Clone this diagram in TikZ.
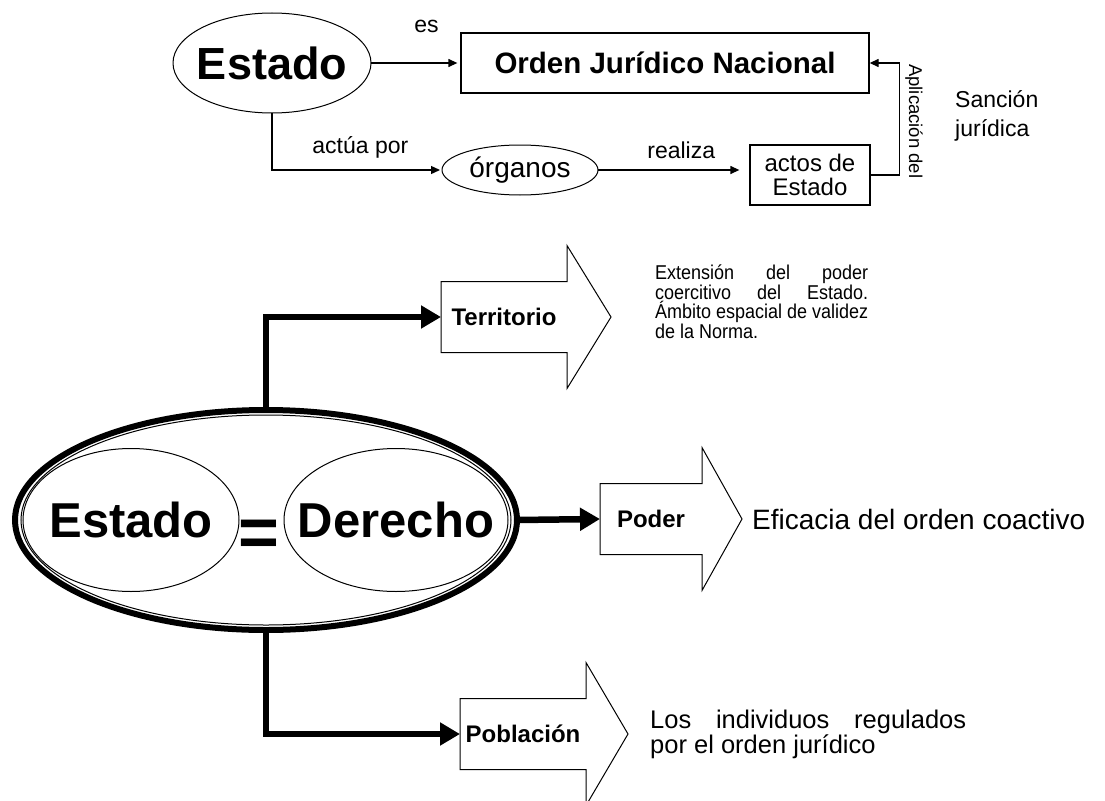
\documentclass[tikz,border=0pt]{standalone}
\usepackage{fontspec}
\setmainfont{Liberation Sans}
\newfontfamily\narrowfont{Liberation Sans}[FakeStretch=0.9]
\usetikzlibrary{arrows.meta,shapes.geometric,calc}
\newcommand{\fsz}[2]{\fontsize{#1}{#2}\selectfont}
\begin{document}
\begin{tikzpicture}[x=1pt,y=-1pt,
  thinline/.style={line width=1.3pt},
  thinarrow/.style={thinline,-{Triangle[length=9pt,width=8pt]}},
  thickarrow/.style={line width=6.5pt,line join=miter,-{Triangle[length=20pt,width=22pt]}},
  lbl/.style={font=\fsz{23}{25}, inner sep=0pt},
  oval/.style={ellipse, draw, line width=1pt, inner sep=0pt, outer sep=0pt},
  bodybox/.style={inner sep=0pt, outer sep=0pt, minimum width=126pt, minimum height=71pt, font=\bfseries\fsz{24}{25}},
  bigarrow/.style={line width=1pt, line join=miter},
  txtblock/.style={inner sep=0pt, anchor=north west, align=left}
]
\useasboundingbox (0,0) rectangle (1105,800);
% ---------- top diagram
\node[oval, minimum width=198pt, minimum height=100pt, font=\bfseries\fsz{45}{46}] (e1) at (272,63) {\makebox[0pt]{Estado}};
\node[draw, thinline, minimum width=408pt, minimum height=60pt, inner sep=0pt, font=\bfseries\fsz{29.5}{30}] (onj) at (665,63) {Orden Jurídico Nacional};
\node[oval, minimum width=156pt, minimum height=50pt, font=\fsz{28}{29}] (org) at (520,170) {\makebox[0pt]{órganos}};
\node[draw, thinline, minimum width=120pt, minimum height=60pt, inner sep=0pt, align=center, font=\fsz{24}{24}] (actos) at (810,175) {actos de\\Estado};
\draw[thinarrow, shorten >=3pt] (e1.east) -- node[lbl, pos=0.62, above=30pt]{es} (onj.west);
\draw[thinarrow, shorten >=2pt] (e1.south) |- node[lbl, pos=0.76, above=11pt]{actúa por} (org.west);
\draw[thinarrow, shorten >=10pt] (org.east) -- node[lbl, pos=0.55, above=11pt]{realiza} (org.east -| actos.west);
\draw[thinarrow] (actos.east) -- ++(29,0) coordinate (bend) -- node[pos=0.48, rotate=-90, anchor=south, inner sep=5pt, font=\fsz{18.5}{19}]{Aplicación del} (bend |- onj.east) -- (onj.east);
\node[inner sep=0pt, anchor=west, align=left, font=\fsz{23}{29}] (sanc) at (955,116) {Sanción\\jurídica};
% ---------- bottom diagram
\node[ellipse, draw, line width=6pt, minimum width=502pt, minimum height=220pt, inner sep=0pt, outer sep=0pt] (outer) at (266,520) {};
\draw[line width=1pt] (outer.center) ellipse [x radius=245pt, y radius=105pt];
\node[oval, minimum width=216pt, minimum height=143pt, font=\bfseries\fsz{49}{50}] (est2) at (131,520) {\makebox[0pt]{Estado}};
\node[oval, minimum width=224pt, minimum height=143pt, font=\bfseries\fsz{49}{50}] (der) at (396,520) {\makebox[0pt]{Derecho}};
\node[inner sep=0pt, font=\bfseries\fsz{70}{70}] (eq) at (259,538) {=};
% big arrows (body boxes)
\node[bodybox] (terr) at (504,317) {Territorio};
\node[bodybox, minimum width=102pt] (poder) at (651,519) {Poder};
\node[bodybox] (pobl) at (523,734) {Población};
\foreach \n/\h in {terr/44,poder/40,pobl/42}{
  \draw[bigarrow] (\n.north west) -- (\n.north east) -- ([yshift=36pt]\n.north east) -- ([xshift=\h pt]\n.east) -- ([yshift=-36pt]\n.south east) -- (\n.south east) -- (\n.south west) -- cycle;
}
\draw[thickarrow] (outer.north) |- (terr.west);
\draw[thickarrow] (outer.east) -- (poder.west);
\draw[thickarrow] (outer.south) |- (pobl.west);
% texts
\node[txtblock, font=\narrowfont\fsz{20}{19.5}] (ext) at (655,265) {\makebox[213pt][s]{Extensión del poder}\\\makebox[213pt][s]{coercitivo del Estado.}\\\makebox[213pt][s]{Ámbito espacial de validez}\\de la Norma.};
\node[inner sep=0pt, anchor=west, font=\fsz{28}{29}] (efi) at (752,519) {Eficacia del orden coactivo};
\node[txtblock, font=\fsz{25.5}{23}] (los) at (650,710) {\makebox[316pt][s]{Los individuos regulados}\\por el orden jurídico};
\end{tikzpicture}
\end{document}
